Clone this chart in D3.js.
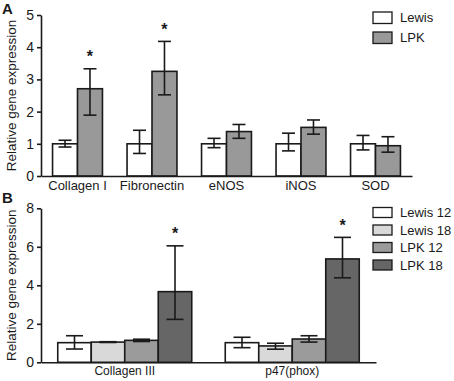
<!DOCTYPE html>
<html><head><meta charset="utf-8">
<script src="https://cdn.jsdelivr.net/npm/d3@7"></script>
<style>
body{margin:0;background:#fff;}
text{font-family:Arial,"Liberation Sans",sans-serif;}
</style></head>
<body><svg id="c" width="454" height="381"></svg>
<script>
// Panel A data
const catsA = ["Collagen I","Fibronectin","eNOS","iNOS","SOD"];
const seriesA = ["Lewis","LPK"];
const lewisA = [1.0, 1.0, 1.0, 1.0, 1.0];
const lewisA_hi = [1.11, 1.42, 1.17, 1.33, 1.26];
const lewisA_lo = [0.90, 0.70, 0.88, 0.78, 0.81];
const lpkA = [2.71, 3.25, 1.38, 1.51, 0.94];
const lpkA_hi = [3.33, 4.18, 1.60, 1.74, 1.22];
const lpkA_lo = [1.89, 2.52, 1.17, 1.30, 0.74];
const starA = [true, true, false, false, false];
const yTicksA = [0,1,2,3,4,5];

// Panel B data
const catsB = ["Collagen III","p47(phox)"];
const seriesB = ["Lewis 12","Lewis 18","LPK 12","LPK 18"];
const valsB = [[1.02, 1.05, 1.14, 3.67],[1.02, 0.85, 1.21, 5.37]];
const hiB = [[1.38, 1.07, 1.20, 6.05],[1.30, 0.99, 1.38, 6.49]];
const loB = [[0.69, 1.03, 1.08, 2.23],[0.76, 0.68, 1.05, 4.39]];
const starB = [[false,false,false,true],[false,false,false,true]];
const yTicksB = [0,2,4,6,8];

const colorsA = ["#ffffff","#999999"];
const colorsB = ["#ffffff","#d9d9d9","#9b9b9b","#666666"];
const ink = "#1a1a1a";

const svg = d3.select("#c");

function panel(cfg){
  const g = svg.append("g");
  const x0 = d3.scaleBand().domain(cfg.cats).range([cfg.left, cfg.right]).paddingInner(cfg.pi).paddingOuter(cfg.po);
  const x1 = d3.scaleBand().domain(cfg.series).range([0, x0.bandwidth()]);
  const y = d3.scaleLinear().domain([0, cfg.ymax]).range([cfg.bottom, cfg.top]);

  cfg.cats.forEach((c, ci) => {
    cfg.series.forEach((s, si) => {
      const v = cfg.val(ci, si), hi = cfg.hi(ci, si), lo = cfg.lo(ci, si);
      const bx = x0(c) + x1(s), bw = x1.bandwidth();
      g.append("rect").attr("x", bx).attr("y", y(v)).attr("width", bw).attr("height", y(0) - y(v))
        .attr("fill", cfg.colors[si]).attr("stroke", ink).attr("stroke-width", 1.6);
      const cx = bx + bw/2, hw = cfg.cap/2;
      g.append("line").attr("x1", cx).attr("x2", cx).attr("y1", y(hi)).attr("y2", y(lo)).attr("stroke", ink).attr("stroke-width", 1.6);
      g.append("line").attr("x1", cx-hw).attr("x2", cx+hw).attr("y1", y(hi)).attr("y2", y(hi)).attr("stroke", ink).attr("stroke-width", 1.6);
      g.append("line").attr("x1", cx-hw).attr("x2", cx+hw).attr("y1", y(lo)).attr("y2", y(lo)).attr("stroke", ink).attr("stroke-width", 1.6);
      if (cfg.star(ci, si)) {
        g.append("text").attr("x", cx).attr("y", y(hi) - 15.5 + 9).attr("text-anchor","middle")
          .attr("font-size", 16).attr("font-weight","bold").attr("fill", ink).text("*");
      }
    });
  });

  const ya = g.append("g").attr("transform", `translate(${cfg.left},0)`)
    .call(d3.axisLeft(y).tickValues(cfg.yticks).tickFormat(d3.format("d")).tickSize(4).tickSizeOuter(0).tickPadding(3));
  ya.select(".domain").attr("stroke", ink).attr("stroke-width", 1.6);
  ya.selectAll(".tick line").attr("stroke", ink).attr("stroke-width", 1.6);
  ya.selectAll(".tick text").attr("font-size", 14).attr("fill", ink).attr("font-family","Arial,'Liberation Sans',sans-serif");

  const xa = g.append("g").attr("transform", `translate(0,${cfg.bottom})`)
    .call(d3.axisBottom(x0).tickSize(0).tickSizeOuter(0).tickPadding(cfg.xpad));
  xa.select(".domain").attr("stroke", ink).attr("stroke-width", 1.6);
  xa.selectAll(".tick text").attr("font-size", cfg.xfs).attr("fill", ink).attr("font-family","Arial,'Liberation Sans',sans-serif");

  g.append("text").attr("transform", `translate(${cfg.titleX},${(cfg.top+cfg.bottom)/2}) rotate(-90)`)
    .attr("text-anchor","middle").attr("font-size", cfg.tfs).attr("fill", ink).text("Relative gene expression");

  g.append("text").attr("x", 2).attr("y", cfg.letterY).attr("font-size", 15).attr("font-weight","bold").attr("fill", ink).text(cfg.letter);

  cfg.series.forEach((s, si) => {
    const ly = cfg.legTop + si*cfg.legStep;
    g.append("rect").attr("x", 373).attr("y", ly).attr("width", 19).attr("height", cfg.legH)
      .attr("fill", cfg.colors[si]).attr("stroke", ink).attr("stroke-width", 1.3);
    g.append("text").attr("x", 400).attr("y", ly + cfg.legH/2).attr("dy","0.36em").attr("font-size", 13).attr("fill", ink).text(s);
  });
}

panel({
  cats: catsA, series: seriesA, left: 41, right: 412, pi: 0.33, po: 0.155,
  top: 15, bottom: 176, ymax: 5, yticks: yTicksA,
  val: (c,s) => s===0 ? lewisA[c] : lpkA[c],
  hi: (c,s) => s===0 ? lewisA_hi[c] : lpkA_hi[c],
  lo: (c,s) => s===0 ? lewisA_lo[c] : lpkA_lo[c],
  star: (c,s) => s===1 && starA[c],
  colors: colorsA, cap: 13, xpad: 5, xfs: 13, titleX: 16, tfs: 13.5,
  letter: "A", letterY: 14, legTop: 12, legStep: 20, legH: 11.5
});

panel({
  cats: catsB, series: seriesB, left: 41, right: 376, pi: 0.2, po: 0.1,
  top: 208.3, bottom: 362.3, ymax: 8, yticks: yTicksB,
  val: (c,s) => valsB[c][s], hi: (c,s) => hiB[c][s], lo: (c,s) => loB[c][s],
  star: (c,s) => starB[c][s],
  colors: colorsB, cap: 17, xpad: 4, xfs: 12, titleX: 16, tfs: 13.5,
  letter: "B", letterY: 203, legTop: 207.5, legStep: 17.5, legH: 10
});
</script>
</body></html>
